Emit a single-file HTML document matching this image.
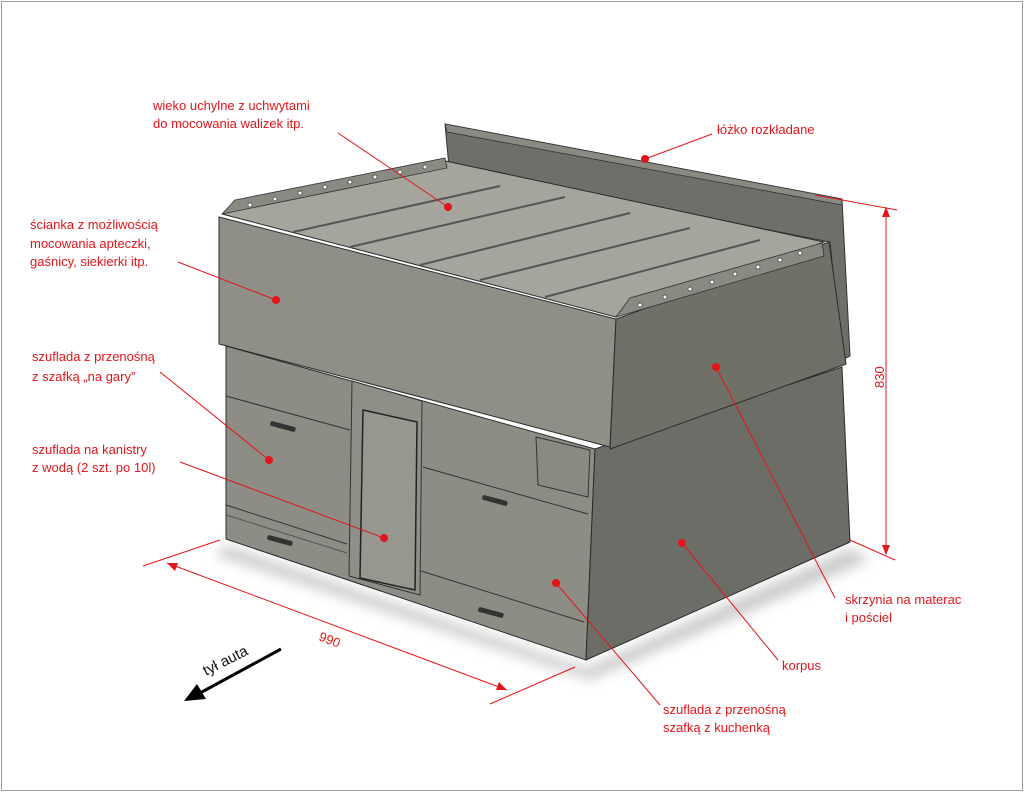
<!DOCTYPE html>
<html><head><meta charset="utf-8"><style>
html,body{margin:0;padding:0;background:#fff}
svg{display:block}
text{font-family:"Liberation Sans",sans-serif;font-size:13px;fill:#e3151a}
</style></head><body>
<svg width="1024" height="792" viewBox="0 0 1024 792" xmlns="http://www.w3.org/2000/svg">
<rect x="1.5" y="1.5" width="1021" height="789" fill="#fff" stroke="#9a9a9a" stroke-width="1"/>
<defs><filter id="b"><feGaussianBlur stdDeviation="6"/></filter></defs>
<!-- shadow -->
<polygon points="226,545 586,668 850,548 870,560 590,680 215,555" fill="#ccc" filter="url(#b)"/>
<!-- back board -->
<polygon points="445,124 842,199 850,356 842,360 830,242 449,167" fill="#6f6f69" stroke="#333" stroke-width="1"/>
<polygon points="445,124 842,199 842,205 447,132" fill="#8a8a83" stroke="#333" stroke-width="0.8"/>
<!-- lower body -->
<polygon points="226,346 595,449 586,660 226,539" fill="#8d8d86" stroke="#2a2a2a" stroke-width="1"/>
<polygon points="595,449 842,367 850,542 586,660" fill="#6d6d67" stroke="#2a2a2a" stroke-width="1"/>
<!-- left drawers -->
<polyline points="226,396 350,430" fill="none" stroke="#333"/>
<polyline points="226,505 347,544" fill="none" stroke="#333"/>
<polyline points="226,515 347,553" fill="none" stroke="#555"/>
<!-- center column -->
<polygon points="352,381 422,401 420,595 349,576" fill="#8f8f88" stroke="#333"/>
<polygon points="363,410 417,422 415,590 360,578" fill="#979790" stroke="#222" stroke-width="1.5"/>
<!-- right drawers -->
<polyline points="423,467 588,514" fill="none" stroke="#333"/>
<polyline points="421,571 584,622" fill="none" stroke="#333"/>
<polygon points="536,437 590,450 588,497 538,485" fill="#8a8a83" stroke="#333"/>
<!-- handles -->
<g fill="#333">
<rect x="270" y="424" width="26" height="5" rx="2" transform="rotate(15 283 426)"/>
<rect x="267" y="538" width="26" height="5" rx="2" transform="rotate(15 280 540)"/>
<rect x="482" y="498" width="26" height="5" rx="2" transform="rotate(15 495 500)"/>
<rect x="478" y="610" width="26" height="5" rx="2" transform="rotate(15 491 612)"/>
</g>
<!-- upper box -->
<polygon points="219,217 616,319 610,447 219,344" fill="#8f8f88" stroke="#2a2a2a" stroke-width="1"/>
<polygon points="616,319 829,242 846,364 610,449" fill="#707069" stroke="#2a2a2a" stroke-width="1"/>
<!-- lid -->
<polygon points="222,214 441,160 824,242 616,317" fill="#a5a59d" stroke="#2a2a2a" stroke-width="1"/>
<polygon points="222,214 235,200 445,158 447,168" fill="#8a8a83" stroke="#333" stroke-width="0.8"/>
<polygon points="616,317 630,298 822,243 824,256" fill="#8a8a83" stroke="#333" stroke-width="0.8"/>
<g stroke="#555" stroke-width="2">
<line x1="293" y1="232" x2="500" y2="186"/>
<line x1="350" y1="247" x2="565" y2="197"/>
<line x1="420" y1="265" x2="630" y2="213"/>
<line x1="480" y1="280" x2="690" y2="228"/>
<line x1="545" y1="297" x2="760" y2="240"/>
</g>
<g fill="#fff" stroke="#333" stroke-width="0.7">
<circle cx="250" cy="205" r="2"/><circle cx="275" cy="199" r="2"/><circle cx="300" cy="193" r="2"/><circle cx="325" cy="187" r="2"/><circle cx="350" cy="182" r="2"/><circle cx="375" cy="177" r="2"/><circle cx="400" cy="172" r="2"/><circle cx="425" cy="167" r="2"/>
<circle cx="640" cy="305" r="2"/><circle cx="665" cy="297" r="2"/><circle cx="690" cy="289" r="2"/><circle cx="712" cy="282" r="2"/><circle cx="735" cy="274" r="2"/><circle cx="758" cy="267" r="2"/><circle cx="780" cy="260" r="2"/><circle cx="800" cy="253" r="2"/>
</g>
<!-- leader lines -->
<g stroke="#e3151a" stroke-width="1" fill="none">
<line x1="338" y1="133" x2="448" y2="207"/>
<line x1="712" y1="134" x2="645" y2="159"/>
<line x1="178" y1="262" x2="276" y2="300"/>
<line x1="160" y1="372" x2="269" y2="460"/>
<line x1="180" y1="462" x2="384" y2="538"/>
<line x1="835" y1="598" x2="716" y2="367"/>
<line x1="778" y1="660" x2="682" y2="543"/>
<line x1="660" y1="705" x2="556" y2="583"/>
<line x1="143" y1="566" x2="220" y2="540"/>
<line x1="490" y1="704" x2="575" y2="667"/>
<line x1="167" y1="563" x2="507" y2="690"/>
<line x1="815" y1="195" x2="897" y2="210"/>
<line x1="850" y1="540" x2="895" y2="560"/>
<line x1="886" y1="207" x2="886" y2="555"/>
</g>
<g fill="#e3151a">
<polygon points="167,563 178,563 175,571"/>
<polygon points="507,690 496,690 499,682"/>
<polygon points="886,207 882,217 890,217"/>
<polygon points="886,555 882,545 890,545"/>
<circle cx="448" cy="207" r="4"/><circle cx="645" cy="159" r="4"/><circle cx="276" cy="300" r="4"/><circle cx="269" cy="460" r="4"/><circle cx="384" cy="538" r="4"/><circle cx="716" cy="367" r="4"/><circle cx="682" cy="543" r="4"/><circle cx="556" cy="583" r="4"/>
</g>
<!-- labels -->
<text x="153" y="110">wieko uchylne z uchwytami</text>
<text x="153" y="128">do mocowania walizek itp.</text>
<text x="717" y="134">łóżko rozkładane</text>
<text x="30" y="229">ścianka z możliwością</text>
<text x="30" y="248">mocowania apteczki,</text>
<text x="30" y="266">gaśnicy, siekierki itp.</text>
<text x="32" y="361">szuflada z przenośną</text>
<text x="32" y="381">z szafką „na gary”</text>
<text x="32" y="454">szuflada na kanistry</text>
<text x="32" y="472">z wodą (2 szt. po 10l)</text>
<text x="845" y="604">skrzynia na materac</text>
<text x="845" y="622">i pościel</text>
<text x="782" y="670">korpus</text>
<text x="663" y="714">szuflada z przenośną</text>
<text x="663" y="732">szafką z kuchenką</text>
<text x="318" y="640" transform="rotate(21 318 640)">990</text>
<text x="884" y="388" transform="rotate(-90 884 388)">830</text>
<text x="206" y="676" transform="rotate(-27 206 676)" style="fill:#111;font-size:15px">tył auta</text>
<line x1="281" y1="649" x2="200" y2="693" stroke="#000" stroke-width="3"/>
<polygon points="184,701 197,684 206,699" fill="#000"/>
</svg>
</body></html>
